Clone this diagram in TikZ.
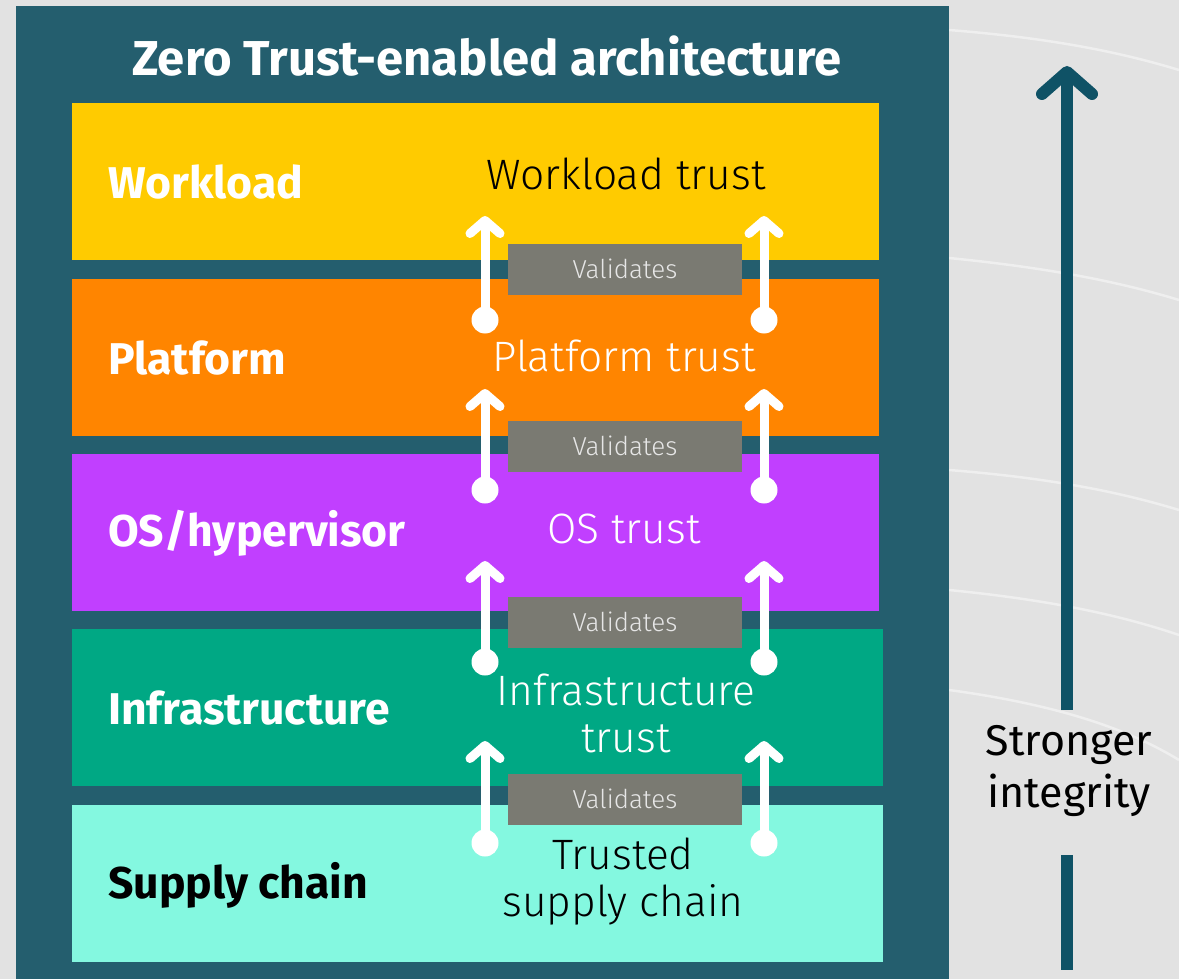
\documentclass[tikz,border=0pt]{standalone}
\usepackage{fontspec}
\setmainfont{Fira Sans}
\IfFontExistsTF{Fira Sans Light}{\newfontfamily\lightfont{Fira Sans Light}}{\newfontfamily\lightfont{Fira Sans}}
\usetikzlibrary{arrows.meta}
\definecolor{bgg}{HTML}{E2E2E2}
\definecolor{panel}{HTML}{245E6E}
\definecolor{cyel}{HTML}{FFCB00}
\definecolor{corg}{HTML}{FF8500}
\definecolor{cpur}{HTML}{C13FFF}
\definecolor{cgrn}{HTML}{00A884}
\definecolor{caqu}{HTML}{84F8E0}
\definecolor{cval}{HTML}{7A7A72}
\definecolor{cval2}{HTML}{E6E6E6}
\definecolor{bigarr}{HTML}{0F5266}
\begin{document}
\begin{tikzpicture}[x=1pt,y=-1pt,
  band/.style={inner sep=0pt, outer sep=0pt, draw=none, anchor=north west},
  layerlabel/.style={font=\fontsize{44.5}{48}\selectfont\bfseries, anchor=west, inner sep=0pt},
  trustlabel/.style={font=\lightfont\fontsize{42.5}{47}\selectfont, align=center, inner sep=0pt},
  valbox/.style={fill=cval, minimum width=234pt, minimum height=51pt, inner sep=0pt,
     text=cval2, font=\lightfont\fontsize{26}{28}\selectfont},
  valarrow/.style={draw=white, line width=9pt, -{Straight Barb[round,length=13pt,width=30pt]}},
  dot/.style={circle, fill=white, minimum size=27pt, inner sep=0pt}
]
\useasboundingbox (0,0) rectangle (1179,979);
\fill[bgg] (0,0) rectangle (1179,979);
% faint streaks in background
\begin{scope}[white, opacity=0.45, line width=2.5pt]
\draw (949,30) .. controls (1050,38) and (1120,52) .. (1179,70);
\draw (949,258) .. controls (1050,268) and (1120,282) .. (1179,300);
\draw (949,470) .. controls (1050,478) and (1120,492) .. (1179,510);
\draw (949,590) .. controls (1050,600) and (1120,615) .. (1179,635);
\draw (949,690) .. controls (1060,705) and (1130,730) .. (1179,760);
\end{scope}
\fill[panel] (16,6) rectangle (949,979);
\node[font=\fontsize{49}{52}\selectfont\bfseries, text=white, inner sep=0pt] (title) at (487,56) {Zero Trust-enabled architecture};

\node[band, fill=cyel, minimum width=807pt, minimum height=157pt] (wl) at (72,103) {};
\node[band, fill=corg, minimum width=807pt, minimum height=157pt] (pl) at (72,279) {};
\node[band, fill=cpur, minimum width=807pt, minimum height=157pt] (os) at (72,454) {};
\node[band, fill=cgrn, minimum width=811pt, minimum height=157pt] (in) at (72,629) {};
\node[band, fill=caqu, minimum width=811pt, minimum height=157pt] (sc) at (72,805) {};

\node[layerlabel, text=white] (lwl) at (108,182) {Workload};
\node[layerlabel, text=white] (lpl) at (108,358) {Platform};
\node[layerlabel, text=white] (los) at (108,533) {OS/hypervisor};
\node[layerlabel, text=white] (lin) at (108,708) {Infrastructure};
\node[layerlabel, text=black] (lsc) at (108,885) {Supply chain};

\node[trustlabel, text=black] (twl) at (626,174) {Workload trust};
\node[trustlabel, text=white] (tpl) at (624,356) {Platform trust};
\node[trustlabel, text=white] (tos) at (624,529) {OS trust};
\node[trustlabel, text=white] (tin) at (626,713) {Infrastructure\\trust};
\node[trustlabel, text=black] (tsc) at (623,882) {Trusted\\supply chain};

% arrows
\foreach \i/\cy/\ty in {1/320/216, 2/490/389, 3/662/561, 4/843/741}{
  \coordinate (la\i) at (485,\cy);
  \coordinate (lt\i) at (485,\ty);
  \coordinate (ra\i) at (764,\cy);
  \coordinate (rt\i) at (764,\ty);
  \draw[valarrow] (la\i) -- (lt\i);
  \draw[valarrow] (ra\i) -- (rt\i);
  \node[dot] (ld\i) at (la\i) {};
  \node[dot] (rd\i) at (ra\i) {};
}
\node[valbox] (v1) at (625,269) {Validates};
\node[valbox] (v2) at (625,446) {Validates};
\node[valbox] (v3) at (625,622) {Validates};
\node[valbox] (v4) at (625,799) {Validates};

% strength arrow
\coordinate (sa) at (1067,710);
\coordinate (sb) at (1067,66);
\draw[bigarr, line width=12pt, -{Straight Barb[round,length=22pt,width=50pt]}] (sa) -- (sb);
\node[font=\fontsize{43}{52}\selectfont, align=center, inner sep=0pt] (st) at (1069,771) {Stronger\\integrity};
\coordinate (sc1) at (1067,855);
\coordinate (sc2) at (1067,970);
\draw[bigarr, line width=12pt] (sc1) -- (sc2);
\end{tikzpicture}
\end{document}
